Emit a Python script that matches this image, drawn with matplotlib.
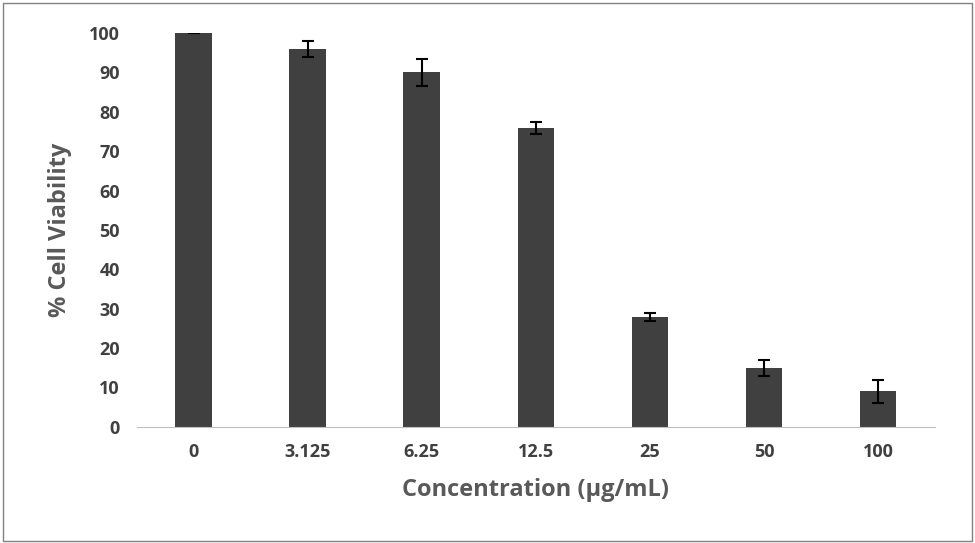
import matplotlib
matplotlib.use("Agg")
import matplotlib.pyplot as plt
from matplotlib.patches import Rectangle

categories = ["0", "3.125", "6.25", "12.5", "25", "50", "100"]
viability = [100, 96, 90, 76, 28, 15, 9]
errors = [0, 2, 3.5, 1.5, 1, 2, 3]
yticks = [0, 10, 20, 30, 40, 50, 60, 70, 80, 90, 100]

plt.rcParams["font.family"] = "Open Sans"
fig = plt.figure(figsize=(9.75, 5.43), dpi=100)
ax = fig.add_axes([0.14, 0.214, 0.819, 0.725])

x = range(len(categories))
ax.bar(x, viability, width=0.32, color="#404040", zorder=2)
ax.errorbar(x, viability, yerr=errors, fmt="none", ecolor="black",
            elinewidth=1.5, capsize=4, capthick=1.5, zorder=3)

ax.set_xlim(-0.5, len(categories) - 0.5)
ax.set_ylim(0, 100)
ax.set_yticks(yticks)
ax.set_xticks(list(x))
ax.set_xticklabels(categories)
for s in ["top", "right", "left"]:
    ax.spines[s].set_visible(False)
ax.spines["bottom"].set_color("#bfbfbf")
ax.tick_params(axis="both", length=0, labelsize=13, colors="#404040", pad=12)
for lab in ax.get_xticklabels() + ax.get_yticklabels():
    lab.set_fontweight("bold")
ax.set_ylabel("% Cell Viability", fontsize=17, fontweight="bold", color="#595959", labelpad=12)
ax.set_xlabel("Concentration (µg/mL)", fontsize=17, fontweight="bold", color="#595959", labelpad=12)

fig.patches.append(Rectangle((0.003, 0.004), 0.994, 0.99, transform=fig.transFigure,
                             fill=False, edgecolor="#808080", linewidth=1))
fig.savefig("out.png", dpi=100)
